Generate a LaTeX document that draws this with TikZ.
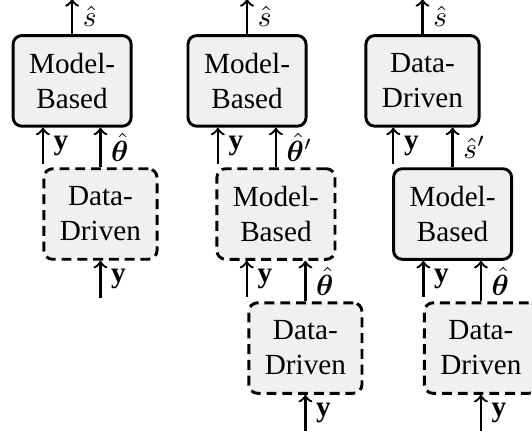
\documentclass[tikz,border=0pt]{standalone}
\usepackage{fontspec}
\setmainfont{Liberation Serif}
\usepackage{amsmath,bm}

\tikzset{
    block/.style={draw, line width=1pt, rounded corners=3pt, fill=black!6, align=center,
                  inner xsep=5.5pt, inner ysep=6pt, minimum height=31pt},
    learned/.style={block, dash pattern=on 3.4pt off 2pt},
    flow/.style={thick, ->},
    tag/.style={midway, right=3.3pt, inner sep=0pt},
}

\begin{document}
\begin{tikzpicture}[x=1pt, y=1pt]
    \useasboundingbox (0, 0) rectangle (182.2, 147.6);

    % column 1
    \node[block]   (b11) at (24.7, 119.9) {Model-\\Based};
    \node[learned] (b12) at (34.4, 74.3)  {Data-\\Driven};
    % column 2
    \node[block]   (b21) at (84.6, 119.9)  {Model-\\Based};
    \node[learned] (b22) at (94.5, 74.3)   {Model-\\Based};
    \node[learned] (b23) at (104.6, 28.4)  {Data-\\Driven};
    % column 3
    \node[block]   (b31) at (144.7, 119.9) {Data-\\Driven};
    \node[block]   (b32) at (155.0, 74.3)  {Model-\\Based};
    \node[learned] (b33) at (164.7, 28.4)  {Data-\\Driven};

    \foreach \blk in {b11, b21, b31}{%
        \coordinate (\blk-out) at ([yshift=12pt]\blk.north);
        \draw[flow] (\blk.north) -- (\blk-out) node[tag] {$\hat{s}$};
    }
    \foreach \blk in {b11, b21, b31, b22, b32}{%
        \coordinate (\blk-y) at ([xshift=-10pt, yshift=-12.3pt]\blk.south);
        \draw[flow] (\blk-y) -- (\blk-y |- \blk.south) node[tag] {$\mathbf{y}$};
    }
    \foreach \blk in {b12, b23, b33}{%
        \coordinate (\blk-in) at ([yshift=-12.7pt]\blk.south);
        \draw[flow] (\blk-in) -- (\blk.south) node[tag] {$\mathbf{y}$};
    }

    \draw[flow] (b12.north) -- (b12.north |- b11.south) node[tag] {$\hat{\bm{\theta}}$};
    \draw[flow] (b22.north) -- (b22.north |- b21.south) node[tag] {$\hat{\bm{\theta}}'$};
    \draw[flow] (b23.north) -- (b23.north |- b22.south) node[tag] {$\hat{\bm{\theta}}$};
    \draw[flow] (b32.north) -- (b32.north |- b31.south) node[tag] {$\hat{s}'$};
    \draw[flow] (b33.north) -- (b33.north |- b32.south) node[tag] {$\hat{\bm{\theta}}$};
\end{tikzpicture}
\end{document}
